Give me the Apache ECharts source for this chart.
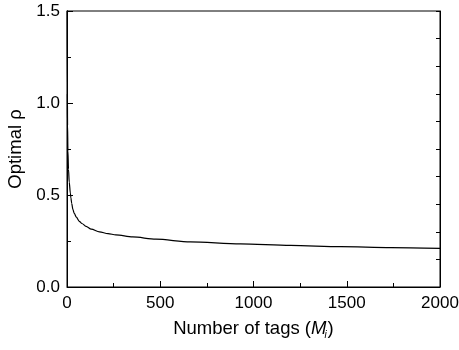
<!DOCTYPE html>
<html>
<head>
<meta charset="utf-8">
<script src="https://cdn.jsdelivr.net/npm/echarts@6/dist/echarts.min.js"></script>
<style>
  html, body { margin: 0; padding: 0; background: #fff; }
  #main { width: 459px; height: 350px; }
</style>
</head>
<body>
<div id="main"></div>
<script>
// number of tags M_i and the optimal rho
const tags = [1, 2, 3, 5, 8, 12, 18, 21, 25, 32, 39, 50, 66, 80, 102, 130, 174, 220, 262, 352, 477, 661, 930, 1199, 1468, 1737, 2000]
const rho = [1.6, 1.05, 0.88, 0.74, 0.64, 0.57, 0.51, 0.485, 0.455, 0.42, 0.40, 0.38, 0.357, 0.345, 0.33, 0.315, 0.30, 0.29, 0.283, 0.272, 0.26, 0.245, 0.234, 0.226, 0.219, 0.214, 0.210]
const xTicks = [0, 500, 1000, 1500, 2000]
const yTicks = [0.0, 0.5, 1.0, 1.5]

const font = 'Liberation Sans, Arial, sans-serif'
const points = tags.map((m, i) => [m, rho[i]])

const myChart = echarts.init(document.getElementById('main'))
myChart.setOption({
  animation: false,
  grid: {
    left: 67,
    right: 19,
    top: 11,
    bottom: 63,
    outerBoundsMode: 'none',
    show: true,
    borderColor: '#000',
    borderWidth: 1
  },
  xAxis: {
    type: 'value',
    min: xTicks[0],
    max: xTicks[xTicks.length - 1],
    interval: 500,
    name: '{n|Number of tags (}{m|M}{s|i}{n|)}',
    nameLocation: 'middle',
    nameGap: 31,
    nameTextStyle: {
      rich: {
        n: { fontFamily: font, fontSize: 18.5, color: '#000', lineHeight: 22 },
        m: { fontFamily: font, fontSize: 18.5, color: '#000', fontStyle: 'italic', lineHeight: 22 },
        s: { fontFamily: font, fontSize: 10, color: '#000', fontStyle: 'italic', lineHeight: 10, verticalAlign: 'bottom', padding: [0, 1, 0, -2] }
      }
    },
    axisLine: { lineStyle: { color: '#000', width: 1 } },
    axisTick: { inside: true, length: 6, lineStyle: { color: '#000' } },
    minorTick: { show: true, splitNumber: 2, length: 4, lineStyle: { color: '#000' } },
    splitLine: { show: false },
    axisLabel: {
      margin: 8,
      color: '#000',
      fontFamily: font,
      fontSize: 17,
      formatter: v => xTicks.includes(v) ? String(v) : ''
    }
  },
  yAxis: [
    {
      type: 'value',
      min: yTicks[0],
      max: yTicks[yTicks.length - 1],
      interval: 0.5,
      name: 'Optimal ρ',
      nameLocation: 'middle',
      nameGap: 38,
      nameTextStyle: { fontFamily: font, fontSize: 18.5, color: '#000' },
      axisLine: { show: true, lineStyle: { color: '#000', width: 1 } },
      axisTick: { show: true, inside: true, length: 6, lineStyle: { color: '#000' } },
      minorTick: { show: true, splitNumber: 2, length: 4, lineStyle: { color: '#000' } },
      splitLine: { show: false },
      axisLabel: {
        margin: 7,
        color: '#000',
        fontFamily: font,
        fontSize: 17,
        formatter: v => v.toFixed(1)
      }
    },
    {
      type: 'value',
      position: 'right',
      min: 0,
      max: 1.5,
      interval: 0.15,
      axisLine: { show: true, lineStyle: { color: '#000', width: 1 } },
      axisTick: { show: true, inside: true, length: 4, lineStyle: { color: '#000' } },
      splitLine: { show: false },
      axisLabel: { show: false }
    }
  ],
  series: [
    {
      type: 'line',
      data: points,
      showSymbol: false,
      smooth: 0.3,
      smoothMonotone: 'x',
      clip: true,
      lineStyle: { color: '#000', width: 1.2 }
    }
  ]
})
</script>
</body>
</html>
